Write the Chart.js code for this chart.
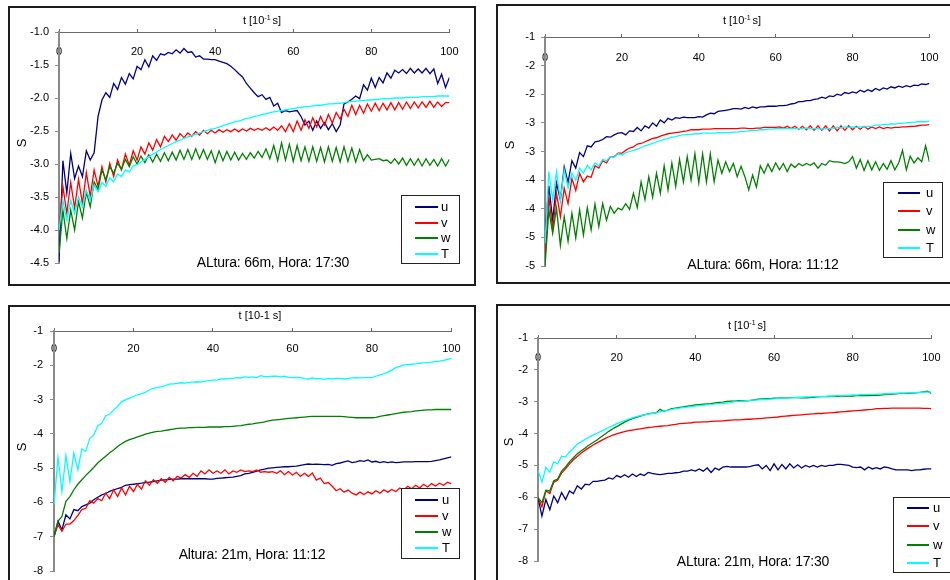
<!DOCTYPE html>
<html>
<head>
<meta charset="utf-8">
<script src="https://cdn.jsdelivr.net/npm/chart.js@4.4.1/dist/chart.umd.min.js"></script>
<style>
  body { margin: 0; width: 950px; height: 580px; overflow: hidden; background: #fff;
         font-family: 'Liberation Sans', Arial, sans-serif; color: #000; }
  .panel { position: absolute; }
  .panel canvas { position: absolute; left: 0; top: 0; }
  .frame { position: absolute; left: 0; top: 0; right: 0; bottom: 0; border: 2px solid #1c1c1c;
           box-sizing: border-box; pointer-events: none; }
  .xtitle { position: absolute; font-size: 11px; white-space: nowrap; transform: translate(-50%, -50%); }
  .xtitle sup { font-size: 7px; vertical-align: 4px; line-height: 0; }
  .ytitle { position: absolute; font-size: 13px; transform: translate(-50%, -50%) rotate(-90deg); }
  .note { position: absolute; font-size: 14px; white-space: nowrap; letter-spacing: -0.2px;
          transform: translate(-50%, -50%); }
  .legend { position: absolute; border: 1.5px solid #222; box-sizing: border-box; background: #fff; }
  .legend .sw { position: absolute; height: 2px; }
  .legend .lb { position: absolute; font-size: 13px; line-height: 1; transform: translateY(-55%); }
</style>
</head>
<body>
<script>
// time steps, t in tenths of a second
const tSteps = Array.from({ length: 101 }, (_, i) => i);

const seriesNames = ['u', 'v', 'w', 'T'];
const seriesColors = ['#000080', '#ff0000', '#008000', '#00ffff'];

// y tick labels, listed from the bottom of the axis upwards
const yLabelsHalf = ['-4.5', '-4.0', '-3.5', '-3.0', '-2.5', '-2.0', '-1.5', '-1.0'];
const yLabelsRounded = ['-5', '-5', '-4', '-4', '-3', '-3', '-2', '-2', '-1'];
const yLabelsInt = ['-8', '-7', '-6', '-5', '-4', '-3', '-2', '-1'];

// 66 m, 17:30
const u1 = [-4.48,-2.95,-3.44,-2.84,-3.22,-3.03,-3.19,-2.80,-2.94,-2.83,
  -2.28,-2.03,-1.92,-1.99,-1.78,-1.87,-1.69,-1.79,-1.63,-1.71,
  -1.52,-1.57,-1.42,-1.53,-1.36,-1.43,-1.33,-1.35,-1.31,-1.33,
  -1.27,-1.32,-1.25,-1.31,-1.30,-1.38,-1.36,-1.41,-1.41,-1.42,
  -1.42,-1.44,-1.46,-1.48,-1.52,-1.57,-1.63,-1.68,-1.78,-1.85,
  -1.92,-1.98,-1.95,-2.02,-1.99,-2.12,-2.08,-2.22,-2.19,-2.21,
  -2.20,-2.19,-2.28,-2.41,-2.35,-2.49,-2.35,-2.46,-2.37,-2.48,
  -2.39,-2.51,-2.41,-2.09,-2.06,-2.02,-1.97,-2.01,-1.80,-1.88,
  -1.70,-1.84,-1.69,-1.77,-1.62,-1.70,-1.58,-1.62,-1.57,-1.63,
  -1.55,-1.62,-1.56,-1.62,-1.55,-1.63,-1.56,-1.78,-1.64,-1.84,
  -1.69];
const v1 = [-4.00,-3.34,-3.75,-3.28,-3.67,-3.23,-3.60,-3.13,-3.49,-3.09,
  -3.34,-3.04,-3.27,-2.99,-3.19,-2.94,-3.09,-2.85,-3.02,-2.80,
  -2.94,-2.74,-2.85,-2.68,-2.79,-2.63,-2.74,-2.58,-2.66,-2.56,
  -2.64,-2.54,-2.60,-2.53,-2.58,-2.51,-2.56,-2.49,-2.54,-2.49,
  -2.53,-2.48,-2.52,-2.48,-2.51,-2.47,-2.51,-2.47,-2.50,-2.46,
  -2.49,-2.46,-2.49,-2.45,-2.49,-2.44,-2.49,-2.42,-2.51,-2.39,
  -2.51,-2.35,-2.49,-2.33,-2.46,-2.30,-2.44,-2.28,-2.41,-2.25,
  -2.38,-2.22,-2.32,-2.17,-2.28,-2.11,-2.25,-2.11,-2.23,-2.09,
  -2.20,-2.08,-2.19,-2.08,-2.18,-2.07,-2.18,-2.07,-2.17,-2.06,
  -2.16,-2.06,-2.15,-2.06,-2.14,-2.05,-2.14,-2.06,-2.13,-2.07,
  -2.07];
const w1 = [-4.35,-3.70,-4.13,-3.70,-4.00,-3.57,-3.82,-3.42,-3.65,-3.27,
  -3.39,-3.09,-3.24,-3.04,-3.14,-2.99,-3.08,-2.93,-3.04,-2.89,
  -3.00,-2.88,-2.98,-2.86,-2.97,-2.85,-2.96,-2.83,-2.95,-2.82,
  -2.94,-2.79,-2.93,-2.78,-2.93,-2.77,-2.92,-2.78,-2.93,-2.80,
  -2.98,-2.80,-2.95,-2.81,-2.94,-2.82,-2.94,-2.84,-2.93,-2.83,
  -2.91,-2.81,-2.90,-2.77,-2.92,-2.72,-2.95,-2.68,-2.94,-2.70,
  -2.96,-2.72,-2.95,-2.74,-2.96,-2.74,-2.96,-2.75,-2.97,-2.74,
  -2.96,-2.75,-2.97,-2.74,-2.96,-2.76,-2.97,-2.78,-2.95,-2.86,
  -2.94,-2.93,-2.92,-2.95,-2.94,-2.99,-2.92,-3.00,-2.91,-3.02,
  -2.92,-3.02,-2.92,-3.03,-2.92,-3.02,-2.93,-3.03,-2.92,-3.03,
  -2.93];
const T1 = [-4.00,-3.55,-3.85,-3.55,-3.75,-3.50,-3.65,-3.40,-3.55,-3.32,
  -3.42,-3.28,-3.34,-3.21,-3.27,-3.15,-3.19,-3.09,-3.12,-3.03,
  -3.01,-2.97,-2.93,-2.89,-2.85,-2.82,-2.78,-2.75,-2.72,-2.69,
  -2.66,-2.64,-2.61,-2.59,-2.57,-2.55,-2.53,-2.51,-2.49,-2.47,
  -2.46,-2.44,-2.42,-2.40,-2.38,-2.36,-2.35,-2.33,-2.31,-2.30,
  -2.28,-2.27,-2.25,-2.24,-2.22,-2.21,-2.20,-2.19,-2.18,-2.17,
  -2.16,-2.15,-2.14,-2.13,-2.13,-2.12,-2.11,-2.11,-2.10,-2.09,
  -2.09,-2.08,-2.08,-2.07,-2.06,-2.05,-2.05,-2.04,-2.04,-2.03,
  -2.03,-2.02,-2.02,-2.01,-2.01,-2.01,-2.00,-2.00,-2.00,-1.99,
  -1.99,-1.99,-1.99,-1.98,-1.98,-1.98,-1.98,-1.97,-1.97,-1.97,
  -1.97];

// 66 m, 11:12
const u2 = [-4.40,-3.60,-4.20,-3.55,-3.85,-3.27,-3.54,-3.16,-3.29,-3.02,
  -3.09,-2.90,-2.92,-2.83,-2.82,-2.79,-2.74,-2.75,-2.71,-2.68,
  -2.67,-2.71,-2.64,-2.65,-2.58,-2.64,-2.55,-2.59,-2.50,-2.56,
  -2.45,-2.50,-2.42,-2.45,-2.41,-2.42,-2.40,-2.41,-2.41,-2.41,
  -2.39,-2.40,-2.36,-2.33,-2.34,-2.30,-2.29,-2.28,-2.27,-2.25,
  -2.25,-2.26,-2.23,-2.25,-2.22,-2.24,-2.22,-2.22,-2.21,-2.21,
  -2.21,-2.20,-2.20,-2.19,-2.17,-2.16,-2.13,-2.13,-2.11,-2.11,
  -2.09,-2.08,-2.05,-2.07,-2.03,-2.04,-2.00,-2.02,-1.97,-1.99,
  -1.96,-1.98,-1.93,-1.96,-1.92,-1.95,-1.90,-1.93,-1.89,-1.91,
  -1.87,-1.89,-1.86,-1.88,-1.85,-1.87,-1.84,-1.85,-1.82,-1.83,
  -1.81];
const v2 = [-4.90,-3.79,-4.37,-3.73,-4.14,-3.64,-3.91,-3.47,-3.68,-3.38,
  -3.53,-3.43,-3.45,-3.25,-3.29,-3.16,-3.20,-3.09,-3.09,-3.03,
  -3.03,-2.98,-2.94,-2.92,-2.87,-2.86,-2.83,-2.80,-2.77,-2.76,
  -2.73,-2.71,-2.69,-2.68,-2.67,-2.66,-2.65,-2.64,-2.62,-2.62,
  -2.62,-2.61,-2.61,-2.61,-2.60,-2.60,-2.60,-2.60,-2.60,-2.60,
  -2.60,-2.59,-2.59,-2.60,-2.60,-2.59,-2.59,-2.58,-2.58,-2.58,
  -2.58,-2.57,-2.59,-2.56,-2.60,-2.56,-2.61,-2.56,-2.62,-2.55,
  -2.63,-2.55,-2.63,-2.55,-2.64,-2.55,-2.64,-2.55,-2.63,-2.55,
  -2.62,-2.56,-2.61,-2.56,-2.61,-2.57,-2.60,-2.57,-2.60,-2.58,
  -2.59,-2.58,-2.58,-2.57,-2.57,-2.56,-2.56,-2.55,-2.54,-2.54,
  -2.53];
const w2 = [-5.00,-4.02,-4.43,-3.99,-4.64,-4.14,-4.57,-4.08,-4.51,-4.02,
  -4.46,-3.98,-4.37,-3.92,-4.31,-3.91,-4.20,-3.96,-4.08,-3.99,
  -4.02,-3.91,-4.01,-3.73,-3.98,-3.53,-3.84,-3.44,-3.80,-3.38,
  -3.73,-3.25,-3.67,-3.20,-3.61,-3.14,-3.53,-3.09,-3.50,-3.04,
  -3.55,-3.04,-3.53,-3.04,-3.53,-3.15,-3.38,-3.18,-3.35,-3.21,
  -3.44,-3.26,-3.44,-3.67,-3.41,-3.62,-3.25,-3.38,-3.22,-3.35,
  -3.20,-3.32,-3.21,-3.35,-3.22,-3.28,-3.21,-3.25,-3.21,-3.24,
  -3.20,-3.29,-3.21,-3.24,-3.16,-3.18,-3.18,-3.19,-3.21,-3.18,
  -3.09,-3.29,-3.14,-3.33,-3.16,-3.32,-3.18,-3.33,-3.21,-3.31,
  -3.16,-3.32,-3.20,-2.98,-3.32,-3.08,-3.20,-3.11,-3.18,-2.90,
  -3.18];
const T2 = [-4.60,-3.35,-3.85,-3.35,-3.85,-3.32,-3.64,-3.38,-3.50,-3.29,
  -3.38,-3.24,-3.32,-3.20,-3.25,-3.14,-3.16,-3.09,-3.10,-3.04,
  -3.06,-3.02,-3.00,-2.98,-2.96,-2.93,-2.90,-2.88,-2.86,-2.83,
  -2.81,-2.79,-2.77,-2.75,-2.74,-2.72,-2.71,-2.70,-2.70,-2.69,
  -2.69,-2.68,-2.68,-2.68,-2.68,-2.67,-2.67,-2.67,-2.67,-2.66,
  -2.66,-2.65,-2.65,-2.64,-2.63,-2.63,-2.62,-2.62,-2.61,-2.61,
  -2.60,-2.60,-2.60,-2.60,-2.60,-2.60,-2.60,-2.60,-2.59,-2.60,
  -2.60,-2.60,-2.61,-2.60,-2.60,-2.59,-2.58,-2.59,-2.57,-2.58,
  -2.57,-2.58,-2.57,-2.57,-2.56,-2.56,-2.54,-2.54,-2.53,-2.53,
  -2.52,-2.52,-2.51,-2.51,-2.50,-2.49,-2.49,-2.48,-2.48,-2.48,
  -2.47];

// 21 m, 11:12
const u3 = [-7.00,-6.55,-6.80,-6.36,-6.48,-6.21,-6.24,-6.12,-6.07,-6.02,
  -5.92,-5.85,-5.78,-5.74,-5.68,-5.63,-5.60,-5.56,-5.50,-5.48,
  -5.47,-5.45,-5.44,-5.42,-5.41,-5.39,-5.37,-5.35,-5.34,-5.33,
  -5.32,-5.32,-5.31,-5.31,-5.31,-5.31,-5.31,-5.31,-5.31,-5.32,
  -5.32,-5.30,-5.29,-5.28,-5.27,-5.26,-5.24,-5.22,-5.17,-5.15,
  -5.12,-5.09,-5.05,-5.03,-5.00,-4.99,-4.98,-4.97,-4.96,-4.96,
  -4.95,-4.94,-4.92,-4.90,-4.88,-4.89,-4.88,-4.89,-4.90,-4.89,
  -4.92,-4.87,-4.85,-4.82,-4.79,-4.84,-4.82,-4.78,-4.80,-4.76,
  -4.82,-4.80,-4.84,-4.81,-4.84,-4.82,-4.84,-4.83,-4.82,-4.82,
  -4.82,-4.81,-4.81,-4.81,-4.81,-4.80,-4.78,-4.76,-4.73,-4.70,
  -4.67];
const v3 = [-7.00,-6.65,-6.84,-6.63,-6.63,-6.53,-6.38,-6.21,-6.17,-5.95,
  -6.02,-5.89,-5.95,-5.73,-5.89,-5.63,-5.83,-5.58,-5.78,-5.53,
  -5.68,-5.47,-5.61,-5.37,-5.50,-5.34,-5.44,-5.31,-5.41,-5.27,
  -5.37,-5.24,-5.29,-5.19,-5.27,-5.15,-5.24,-5.08,-5.17,-5.05,
  -5.15,-5.08,-5.15,-5.05,-5.17,-5.08,-5.12,-5.05,-5.10,-5.08,
  -5.10,-5.05,-5.12,-5.10,-5.12,-5.10,-5.15,-5.08,-5.19,-5.10,
  -5.20,-5.12,-5.24,-5.15,-5.24,-5.14,-5.35,-5.29,-5.45,-5.42,
  -5.53,-5.66,-5.60,-5.70,-5.64,-5.73,-5.78,-5.70,-5.77,-5.69,
  -5.75,-5.66,-5.73,-5.63,-5.70,-5.62,-5.68,-5.58,-5.64,-5.53,
  -5.60,-5.50,-5.58,-5.47,-5.55,-5.45,-5.52,-5.44,-5.50,-5.41,
  -5.46];
const w3 = [-7.00,-6.55,-6.41,-5.97,-5.83,-5.63,-5.47,-5.34,-5.21,-5.10,
  -4.98,-4.85,-4.75,-4.65,-4.55,-4.47,-4.37,-4.29,-4.22,-4.17,
  -4.13,-4.09,-4.05,-4.01,-3.98,-3.95,-3.93,-3.92,-3.90,-3.88,
  -3.86,-3.84,-3.83,-3.83,-3.82,-3.82,-3.81,-3.81,-3.81,-3.80,
  -3.80,-3.80,-3.80,-3.79,-3.79,-3.78,-3.77,-3.76,-3.74,-3.72,
  -3.71,-3.69,-3.67,-3.65,-3.62,-3.60,-3.59,-3.58,-3.56,-3.55,
  -3.54,-3.53,-3.52,-3.51,-3.50,-3.49,-3.49,-3.49,-3.49,-3.49,
  -3.49,-3.49,-3.49,-3.50,-3.51,-3.52,-3.53,-3.53,-3.53,-3.53,
  -3.53,-3.52,-3.49,-3.47,-3.45,-3.43,-3.41,-3.39,-3.37,-3.36,
  -3.35,-3.33,-3.32,-3.31,-3.30,-3.30,-3.29,-3.29,-3.29,-3.29,
  -3.29];
const T3 = [-6.07,-4.69,-5.68,-4.63,-5.39,-4.56,-5.05,-4.44,-4.51,-4.13,
  -4.03,-3.76,-3.69,-3.47,-3.43,-3.30,-3.20,-3.06,-3.01,-2.96,
  -2.91,-2.86,-2.83,-2.79,-2.72,-2.67,-2.65,-2.62,-2.59,-2.55,
  -2.54,-2.53,-2.51,-2.52,-2.50,-2.49,-2.48,-2.49,-2.46,-2.45,
  -2.43,-2.43,-2.40,-2.40,-2.38,-2.38,-2.36,-2.37,-2.34,-2.35,
  -2.34,-2.36,-2.30,-2.33,-2.33,-2.32,-2.32,-2.34,-2.32,-2.35,
  -2.36,-2.35,-2.36,-2.39,-2.40,-2.37,-2.40,-2.38,-2.41,-2.38,
  -2.40,-2.38,-2.38,-2.40,-2.38,-2.37,-2.36,-2.37,-2.36,-2.36,
  -2.36,-2.32,-2.28,-2.25,-2.20,-2.14,-2.07,-2.03,-1.99,-1.98,
  -1.97,-1.96,-1.94,-1.93,-1.92,-1.91,-1.89,-1.88,-1.86,-1.83,
  -1.80];

// 21 m, 17:30
const u4 = [-6.01,-6.59,-6.07,-6.39,-5.96,-6.17,-5.85,-6.07,-5.80,-5.88,
  -5.64,-5.74,-5.59,-5.61,-5.50,-5.50,-5.48,-5.46,-5.39,-5.43,
  -5.32,-5.37,-5.29,-5.37,-5.27,-5.35,-5.27,-5.32,-5.22,-5.25,
  -5.27,-5.29,-5.27,-5.25,-5.25,-5.23,-5.22,-5.18,-5.18,-5.14,
  -5.18,-5.11,-5.18,-5.08,-5.22,-5.08,-5.14,-5.05,-5.03,-5.05,
  -5.05,-5.05,-5.05,-5.05,-5.03,-5.00,-4.98,-5.11,-5.00,-5.16,
  -4.95,-5.14,-4.97,-5.11,-4.95,-5.08,-4.98,-5.08,-5.00,-5.05,
  -5.00,-5.05,-5.00,-5.03,-5.00,-5.00,-4.97,-4.97,-4.98,-5.00,
  -5.05,-5.07,-5.05,-5.14,-5.05,-5.11,-5.07,-5.11,-5.05,-5.07,
  -5.11,-5.14,-5.14,-5.14,-5.14,-5.16,-5.14,-5.14,-5.12,-5.11,
  -5.11];
const v4 = [-6.01,-6.30,-5.80,-5.88,-5.53,-5.46,-5.24,-5.11,-4.95,-4.82,
  -4.71,-4.61,-4.52,-4.44,-4.36,-4.29,-4.22,-4.16,-4.10,-4.05,
  -4.01,-3.97,-3.94,-3.91,-3.89,-3.87,-3.85,-3.83,-3.81,-3.80,
  -3.78,-3.77,-3.76,-3.75,-3.73,-3.71,-3.69,-3.68,-3.67,-3.66,
  -3.64,-3.64,-3.63,-3.63,-3.62,-3.61,-3.61,-3.60,-3.59,-3.58,
  -3.57,-3.57,-3.56,-3.55,-3.55,-3.54,-3.53,-3.52,-3.51,-3.50,
  -3.49,-3.48,-3.46,-3.45,-3.44,-3.43,-3.42,-3.41,-3.40,-3.39,
  -3.38,-3.37,-3.37,-3.36,-3.35,-3.34,-3.33,-3.32,-3.31,-3.30,
  -3.29,-3.28,-3.27,-3.26,-3.25,-3.24,-3.22,-3.22,-3.21,-3.21,
  -3.20,-3.20,-3.20,-3.20,-3.20,-3.20,-3.20,-3.20,-3.21,-3.21,
  -3.22];
const w4 = [-6.01,-6.17,-5.78,-5.80,-5.48,-5.43,-5.18,-5.05,-4.89,-4.76,
  -4.63,-4.54,-4.45,-4.36,-4.28,-4.20,-4.11,-4.02,-3.93,-3.85,
  -3.78,-3.71,-3.64,-3.58,-3.53,-3.49,-3.45,-3.41,-3.38,-3.36,
  -3.35,-3.24,-3.30,-3.26,-3.22,-3.20,-3.18,-3.16,-3.14,-3.12,
  -3.10,-3.09,-3.08,-3.07,-3.06,-3.04,-3.02,-3.01,-2.99,-2.98,
  -2.98,-2.97,-2.97,-2.97,-2.96,-2.94,-2.92,-2.91,-2.90,-2.90,
  -2.89,-2.89,-2.88,-2.88,-2.87,-2.87,-2.87,-2.88,-2.88,-2.87,
  -2.86,-2.85,-2.84,-2.84,-2.84,-2.83,-2.83,-2.82,-2.82,-2.82,
  -2.82,-2.81,-2.81,-2.81,-2.81,-2.80,-2.80,-2.79,-2.78,-2.77,
  -2.76,-2.75,-2.74,-2.74,-2.74,-2.73,-2.72,-2.71,-2.69,-2.67,
  -2.74];
const T4 = [-5.16,-5.53,-5.06,-5.21,-4.89,-4.95,-4.71,-4.73,-4.58,-4.46,
  -4.33,-4.26,-4.18,-4.11,-4.05,-3.99,-3.93,-3.87,-3.81,-3.75,
  -3.69,-3.64,-3.59,-3.55,-3.51,-3.47,-3.44,-3.41,-3.39,-3.37,
  -3.35,-3.32,-3.29,-3.27,-3.24,-3.22,-3.20,-3.18,-3.17,-3.15,
  -3.14,-3.12,-3.11,-3.10,-3.09,-3.07,-3.06,-3.05,-3.04,-3.03,
  -3.00,-2.99,-2.98,-2.97,-2.96,-2.95,-2.94,-2.93,-2.93,-2.92,
  -2.91,-2.90,-2.89,-2.88,-2.88,-2.87,-2.86,-2.86,-2.85,-2.85,
  -2.84,-2.84,-2.83,-2.83,-2.82,-2.82,-2.81,-2.81,-2.80,-2.80,
  -2.79,-2.79,-2.78,-2.78,-2.77,-2.77,-2.76,-2.76,-2.75,-2.75,
  -2.74,-2.74,-2.73,-2.73,-2.72,-2.72,-2.71,-2.71,-2.70,-2.70,
  -2.70];

const FONT = "'Liberation Sans', Arial, sans-serif";

// panel boxes in page pixels; text positions are relative to each box
const panels = [
  { box: [8, 6, 468, 280], axisW: 51, pad: [26, 12, 23], xGap: 20, yGap: 6,
    yMin: -4.5, yMax: -1, yStep: 0.5, yLabels: yLabelsHalf, series: [u1, v1, w1, T1],
    xTitle: 't [10<sup>-1 </sup>s]', xTitleAt: [254, 14], sAt: [13, 137],
    note: 'ALtura: 66m, Hora: 17:30', noteAt: [265, 256],
    legend: { x: 393, y: 189, w: 59, h: 69, first: 11, gap: 15.5, sw: [13, 36], lb: 39 } },
  { box: [496, 4, 461, 280], axisW: 49, pad: [33, 12, 18], xGap: 21, yGap: 6,
    yMin: -5, yMax: -1, yStep: 0.5, yLabels: yLabelsRounded, series: [u2, v2, w2, T2],
    xTitle: 't [10<sup>-1 </sup>s]', xTitleAt: [246, 16], sAt: [13, 141],
    note: 'ALtura: 66m, Hora: 11:12', noteAt: [267, 260],
    legend: { x: 387, y: 178, w: 60, h: 76, first: 10, gap: 18.3, sw: [14, 36], lb: 42 } },
  { box: [8, 305, 468, 289], axisW: 46, pad: [26, 22, 23], xGap: 18, yGap: 7,
    yMin: -8, yMax: -1, yStep: 1, yLabels: yLabelsInt, series: [u3, v3, w3, T3],
    xTitle: 't [10-1 s]', xTitleAt: [252, 10], sAt: [13, 142],
    note: 'Altura: 21m, Hora: 11:12', noteAt: [244, 249],
    legend: { x: 393, y: 183, w: 59, h: 71, first: 11, gap: 16, sw: [13, 36], lb: 40 } },
  { box: [496, 304, 462, 288], axisW: 42, pad: [34, 12, 31], xGap: 20, yGap: 6,
    yMin: -8, yMax: -1, yStep: 1, yLabels: yLabelsInt, series: [u4, v4, w4, T4],
    xTitle: 't [10<sup>-1 </sup>s]', xTitleAt: [251, 21], sAt: [12, 138],
    note: 'ALtura: 21m, Hora: 17:30', noteAt: [257, 257],
    legend: { x: 397, y: 193, w: 62, h: 76, first: 10, gap: 18.3, sw: [13, 35], lb: 39 } }
];

function addText(parent, cls, html, at) {
  const el = document.createElement('div');
  el.className = cls;
  el.innerHTML = html;
  el.style.left = at[0] + 'px';
  el.style.top = at[1] + 'px';
  parent.appendChild(el);
  return el;
}

// legend built from the chart's own datasets
function buildLegend(parent, chart, lg) {
  const box = document.createElement('div');
  box.className = 'legend';
  Object.assign(box.style, { left: lg.x + 'px', top: lg.y + 'px', width: lg.w + 'px', height: lg.h + 'px' });
  chart.data.datasets.forEach((ds, i) => {
    const y = Math.round(lg.first + i * lg.gap);
    const sw = document.createElement('div');
    sw.className = 'sw';
    Object.assign(sw.style, { left: lg.sw[0] + 'px', width: (lg.sw[1] - lg.sw[0]) + 'px',
                              top: (y - 1) + 'px', background: ds.borderColor });
    const lb = document.createElement('div');
    lb.className = 'lb';
    lb.textContent = ds.label;
    Object.assign(lb.style, { left: lg.lb + 'px', top: y + 'px' });
    box.appendChild(sw);
    box.appendChild(lb);
  });
  parent.appendChild(box);
}

panels.forEach(p => {
  const [left, top, width, height] = p.box;
  const wrap = document.createElement('div');
  wrap.className = 'panel';
  Object.assign(wrap.style, { left: left + 'px', top: top + 'px', width: width + 'px', height: height + 'px' });
  const canvas = document.createElement('canvas');
  canvas.width = width;
  canvas.height = height;
  wrap.appendChild(canvas);
  document.body.appendChild(wrap);

  const chart = new Chart(canvas, {
    type: 'line',
    data: {
      labels: tSteps,
      datasets: seriesNames.map((name, i) => ({
        label: name,
        data: p.series[i],
        borderColor: seriesColors[i],
        borderWidth: 1.3,
        pointRadius: 0,
        fill: false,
        tension: 0,
        order: seriesNames.length - i
      }))
    },
    options: {
      responsive: false,
      animation: false,
      events: [],
      layout: { padding: { left: 0, top: p.pad[0], right: p.pad[1], bottom: p.pad[2] } },
      plugins: { legend: { display: false }, tooltip: { enabled: false } },
      scales: {
        x: {
          type: 'linear', min: 0, max: 100,
          // time axis crosses at the top of the S range
          position: { y: p.yMax },
          ticks: { stepSize: 20, autoSkip: false, maxRotation: 0, color: '#000',
                   padding: p.xGap - 2.6, font: { family: FONT, size: 11 } },
          grid: { drawOnChartArea: false, tickLength: -4, color: '#6a6a6a' },
          border: { color: '#6a6a6a', width: 1 }
        },
        y: {
          min: p.yMin, max: p.yMax,
          ticks: { stepSize: p.yStep, autoSkip: false, color: '#000', padding: p.yGap,
                   font: { family: FONT, size: 11 },
                   callback: (v, i) => p.yLabels[i] },
          grid: { drawOnChartArea: false, tickLength: 4, color: '#8a8a8a' },
          border: { color: '#8a8a8a', width: 2 },
          afterFit: s => { s.width = p.axisW; }
        }
      }
    }
  });

  const frame = document.createElement('div');
  frame.className = 'frame';
  wrap.appendChild(frame);
  addText(wrap, 'xtitle', p.xTitle, p.xTitleAt);
  addText(wrap, 'ytitle', 'S', p.sAt);
  addText(wrap, 'note', p.note, p.noteAt);
  buildLegend(wrap, chart, p.legend);
});
</script>
</body>
</html>
